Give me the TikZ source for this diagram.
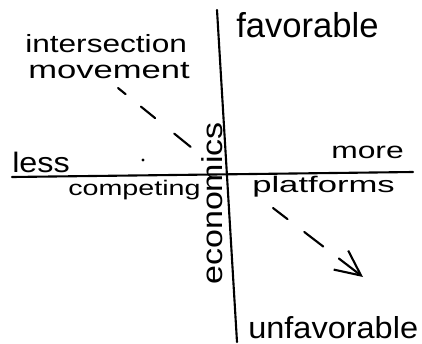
\documentclass[tikz,border=0pt]{standalone}
\usepackage{fontspec}
\usepackage{graphicx}
\setmainfont{Liberation Sans}
\usetikzlibrary{arrows.meta}
\newcommand{\hw}[3]{\fontsize{#1pt}{#1pt}\selectfont\scalebox{#2}[1]{#3}}
\begin{document}
\begin{tikzpicture}[x=0.025cm,y=-0.025cm,line cap=round,
  lbl/.style={inner sep=0pt,anchor=base west},
  axisline/.style={line width=1.5pt},
  movearrow/.style={line width=1.5pt}]
\useasboundingbox (0,0) rectangle (422,343);
% axes
\coordinate (top) at (217,10);
\coordinate (bot) at (237,342);
\coordinate (lft) at (12,177);
\coordinate (rgt) at (413,172);
\draw[axisline] (top) -- (bot);
\draw[axisline] (lft) -- (rgt);
% labels
\node[lbl] (fav) at (236,37) {\hw{24.6}{1}{favorable}};
\node[lbl] (unfav) at (248,338) {\hw{21.6}{1.07}{unfavorable}};
\node[lbl] (inter) at (25,52) {\hw{17.7}{1.27}{intersection}};
\node[lbl] (move) at (28,78) {\hw{17.7}{1.39}{movement}};
\node[lbl] (less) at (12,172) {\hw{20}{1.15}{less}};
\node[lbl] (more) at (331,158) {\hw{16.4}{1.38}{more}};
\node[lbl] (comp) at (68,195) {\hw{15}{1.36}{competing}};
\node[lbl] (plat) at (252,192) {\hw{16}{1.54}{platforms}};
\node[lbl,rotate=90] (econ) at (222,285) {\hw{20.5}{1.18}{economics}};
% stray dot
\fill (143,160) circle (1.1pt);
% movement arrow
\coordinate (m1) at (118,88);
\coordinate (m2) at (192,148);
\coordinate (p1) at (273,208);
\coordinate (p2) at (363,277);
\draw[movearrow,dash pattern=on 7pt off 14pt on 13pt off 17.5pt on 15pt off 20pt] (m1) -- (m2);
\draw[movearrow,dash pattern=on 13pt off 15pt on 17pt off 14pt on 30pt,
  -{Straight Barb[length=18pt,width=17pt,line width=1.5pt]}] (p1) -- (p2);
\end{tikzpicture}
\end{document}
